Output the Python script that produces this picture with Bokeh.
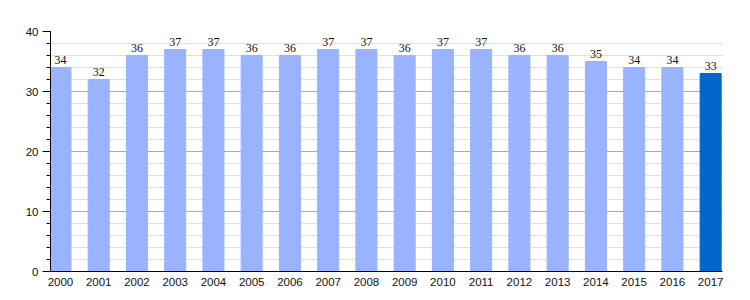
from bokeh.plotting import figure
from bokeh.models import ColumnDataSource, FixedTicker, Range1d, LabelSet
from bokeh.embed import file_html
from bokeh.resources import INLINE

years = [str(y) for y in range(2000, 2018)]
values = [34, 32, 36, 37, 37, 36, 36, 37, 37, 36, 37, 37, 36, 36, 35, 34, 34, 33]
colors = ["#99b3ff"] * 17 + ["#0066cc"]

xs = list(range(len(years)))
src = ColumnDataSource(dict(x=xs, top=values, color=colors, label=[str(v) for v in values]))

p = figure(width=750, height=300, output_backend="svg", toolbar_location=None,
           x_range=Range1d(-0.26, 17.31), y_range=Range1d(0, 40),
           min_border_left=50, min_border_right=28, min_border_top=31, min_border_bottom=29)
p.outline_line_color = None
p.background_fill_color = "white"

p.vbar(x="x", top="top", width=0.55, bottom=0, color="color", source=src)

labels = LabelSet(x="x", y="top", text="label", source=src, text_align="center",
                  text_baseline="bottom", y_offset=4, text_font_size="12px",
                  text_font="Liberation Sans", text_color="#111111")
p.add_layout(labels)

p.xaxis.ticker = FixedTicker(ticks=xs)
p.xaxis.major_label_overrides = {i: y for i, y in enumerate(years)}
p.xaxis.major_tick_line_color = None
p.xaxis.minor_tick_line_color = None
p.xaxis.axis_line_color = "black"
p.xaxis.major_label_standoff = 0
p.xaxis.major_label_text_font = "Liberation Sans"
p.xaxis.major_label_text_font_size = "11.5px"
p.xaxis.major_label_text_color = "#111111"

p.yaxis.ticker = FixedTicker(ticks=[0, 10, 20, 30, 40], minor_ticks=list(range(0, 41, 2)))
p.yaxis.axis_line_color = "black"
p.yaxis.major_tick_line_color = "black"
p.yaxis.major_tick_out = 8
p.yaxis.major_tick_in = 0
p.yaxis.minor_tick_line_color = "black"
p.yaxis.minor_tick_out = 4
p.yaxis.minor_tick_in = 0
p.yaxis.major_label_text_font = "Liberation Sans"
p.yaxis.major_label_text_font_size = "11.5px"
p.yaxis.major_label_text_color = "#111111"
p.yaxis.major_label_standoff = 4

p.xgrid.grid_line_color = None
p.ygrid.grid_line_color = "#aaaaaa"
p.ygrid.minor_grid_line_color = "#e0e0e0"

open("out.html", "w").write(file_html(p, INLINE))
